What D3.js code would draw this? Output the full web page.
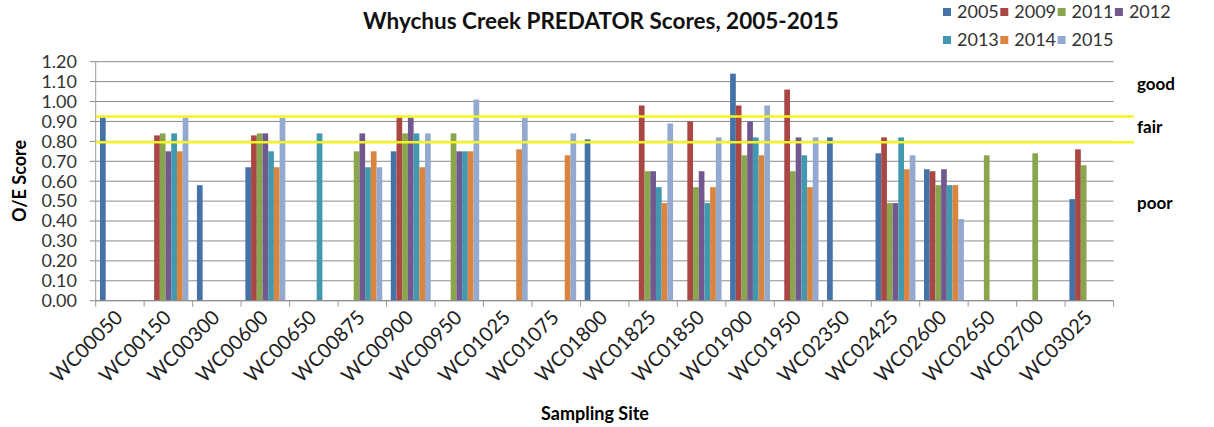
<!DOCTYPE html>
<html>
<head>
<meta charset="utf-8">
<script src="https://cdn.jsdelivr.net/npm/d3@7"></script>
<style>
  body { margin: 0; background: #fff; }
  svg { font-family: Lato, "Open Sans", sans-serif; }
</style>
</head>
<body>
<svg id="chart" width="1214" height="427"></svg>
<script>
// sites along the creek
var sites = ["WC00050","WC00150","WC00300","WC00600","WC00650","WC00875","WC00900","WC00950","WC01025","WC01075","WC01800","WC01825","WC01850","WC01900","WC01950","WC02350","WC02425","WC02600","WC02650","WC02700","WC03025"];
var years = ["2005","2009","2011","2012","2013","2014","2015"];

// O/E score per year, one value per site (null = not sampled)
var s2005 = [0.92,null,0.58,0.67,null,null,0.75,null,null,null,0.81,null,null,1.14,null,0.82,0.74,0.66,null,null,0.51];
var s2009 = [null,0.83,null,0.83,null,null,0.92,null,null,null,null,0.98,0.90,0.98,1.06,null,0.82,0.65,null,null,0.76];
var s2011 = [null,0.84,null,0.84,null,0.75,0.84,0.84,null,null,null,0.65,0.57,0.73,0.65,null,0.49,0.58,0.73,0.74,0.68];
var s2012 = [null,0.75,null,0.84,null,0.84,0.92,0.75,null,null,null,0.65,0.65,0.90,0.82,null,0.49,0.66,null,null,null];
var s2013 = [null,0.84,null,0.75,0.84,0.67,0.84,0.75,null,null,null,0.57,0.49,0.82,0.73,null,0.82,0.58,null,null,null];
var s2014 = [null,0.75,null,0.67,null,0.75,0.67,0.75,0.76,0.73,null,0.49,0.57,0.73,0.57,null,0.66,0.58,null,null,null];
var s2015 = [null,0.92,null,0.92,null,0.67,0.84,1.01,0.92,0.84,null,0.89,0.82,0.98,0.82,null,0.73,0.41,null,null,null];
var series = [s2005, s2009, s2011, s2012, s2013, s2014, s2015];

var yTicks = [0,0.1,0.2,0.3,0.4,0.5,0.6,0.7,0.8,0.9,1.0,1.1,1.2];
// condition class boundaries
var thresholds = [0.925, 0.795];
var classLabels = [["good", 1.09], ["fair", 0.87], ["poor", 0.49]];

var colors = ["#4572A7","#AA4643","#89A54E","#71588F","#4198AF","#DB843D","#93A9CF"];

var svg = d3.select("#chart");
var plotL = 95.7, plotR = 1113.6, plotT = 61.7, plotB = 300.7;

var x = d3.scaleBand().domain(sites).range([plotL, plotR]);
var xi = d3.scaleBand().domain(years).range([0, x.bandwidth()]).paddingOuter(0.75);
var y = d3.scaleLinear().domain([0, 1.2]).range([plotB, plotT]);

// gridlines
svg.append("g")
  .selectAll("line")
  .data(yTicks)
  .enter().append("line")
    .attr("x1", plotL - 6).attr("x2", plotR)
    .attr("y1", d => y(d)).attr("y2", d => y(d))
    .attr("stroke", "#8c8c8c").attr("stroke-width", 1);

// y axis labels
svg.append("g")
  .selectAll("text")
  .data(yTicks)
  .enter().append("text")
    .attr("x", 77).attr("y", d => y(d))
    .attr("dy", "0.35em")
    .attr("text-anchor", "end")
    .attr("font-size", 18)
    .attr("fill", "#333")
    .text(d => d3.format(".2f")(d));

// y axis line
svg.append("line")
  .attr("x1", plotL).attr("x2", plotL).attr("y1", plotT).attr("y2", plotB)
  .attr("stroke", "#9a9a9a");

// x ticks between categories
svg.append("g")
  .selectAll("line")
  .data(sites.concat(["end"]))
  .enter().append("line")
    .attr("x1", (d, i) => plotL + i * x.step()).attr("x2", (d, i) => plotL + i * x.step())
    .attr("y1", plotB).attr("y2", plotB + 6)
    .attr("stroke", "#9a9a9a");

// bars
var groups = svg.append("g")
  .selectAll("g")
  .data(series)
  .enter().append("g")
    .attr("fill", (d, i) => colors[i]);

groups.selectAll("rect")
  .data((d, i) => d.map((v, j) => ({ site: sites[j], year: years[i], v: v })).filter(e => e.v != null))
  .enter().append("rect")
    .attr("x", d => x(d.site) + xi(d.year))
    .attr("width", xi.bandwidth())
    .attr("y", d => y(d.v))
    .attr("height", d => y(0) - y(d.v));

// baseline
svg.append("line")
  .attr("x1", plotL).attr("x2", plotR).attr("y1", plotB).attr("y2", plotB)
  .attr("stroke", "#8c8c8c");

// yellow threshold lines
svg.append("g")
  .selectAll("line")
  .data(thresholds)
  .enter().append("line")
    .attr("x1", plotL).attr("x2", 1134)
    .attr("y1", d => y(d)).attr("y2", d => y(d))
    .attr("stroke", "#f5f51e").attr("stroke-width", 2.5);

svg.append("g")
  .selectAll("text")
  .data(classLabels)
  .enter().append("text")
    .attr("x", 1137).attr("y", d => y(d[1]))
    .attr("dy", "0.35em")
    .attr("font-size", 17).attr("font-weight", "bold")
    .text(d => d[0]);

// x labels
svg.append("g")
  .selectAll("text")
  .data(sites)
  .enter().append("text")
    .attr("transform", d => "translate(" + (x(d) + x.bandwidth() / 2 + 4) + "," + (plotB + 18) + ") rotate(-45)")
    .attr("text-anchor", "end")
    .attr("font-size", 20)
    .attr("fill", "#222")
    .text(d => d);

// titles
svg.append("text")
  .attr("x", 601).attr("y", 29)
  .attr("text-anchor", "middle")
  .attr("font-size", 22.5).attr("font-weight", "bold")
  .attr("fill", "#111")
  .text("Whychus Creek PREDATOR Scores, 2005-2015");

svg.append("text")
  .attr("x", 595).attr("y", 420)
  .attr("text-anchor", "middle")
  .attr("font-size", 18).attr("font-weight", "bold")
  .text("Sampling Site");

svg.append("text")
  .attr("transform", "translate(26,181) rotate(-90)")
  .attr("text-anchor", "middle")
  .attr("font-size", 18).attr("font-weight", "bold")
  .text("O/E Score");

// legend
var legend = svg.append("g")
  .selectAll("g")
  .data(years)
  .enter().append("g")
    .attr("transform", (d, i) => "translate(" + (943 + (i % 4) * 57.3) + "," + (i < 4 ? 12 : 40) + ")");

legend.append("rect")
  .attr("x", 0).attr("y", -4).attr("width", 8).attr("height", 8)
  .attr("fill", (d, i) => colors[i]);

legend.append("text")
  .attr("x", 14).attr("dy", "0.35em")
  .attr("font-size", 18)
  .attr("fill", "#333")
  .text(d => d);
</script>
</body>
</html>
